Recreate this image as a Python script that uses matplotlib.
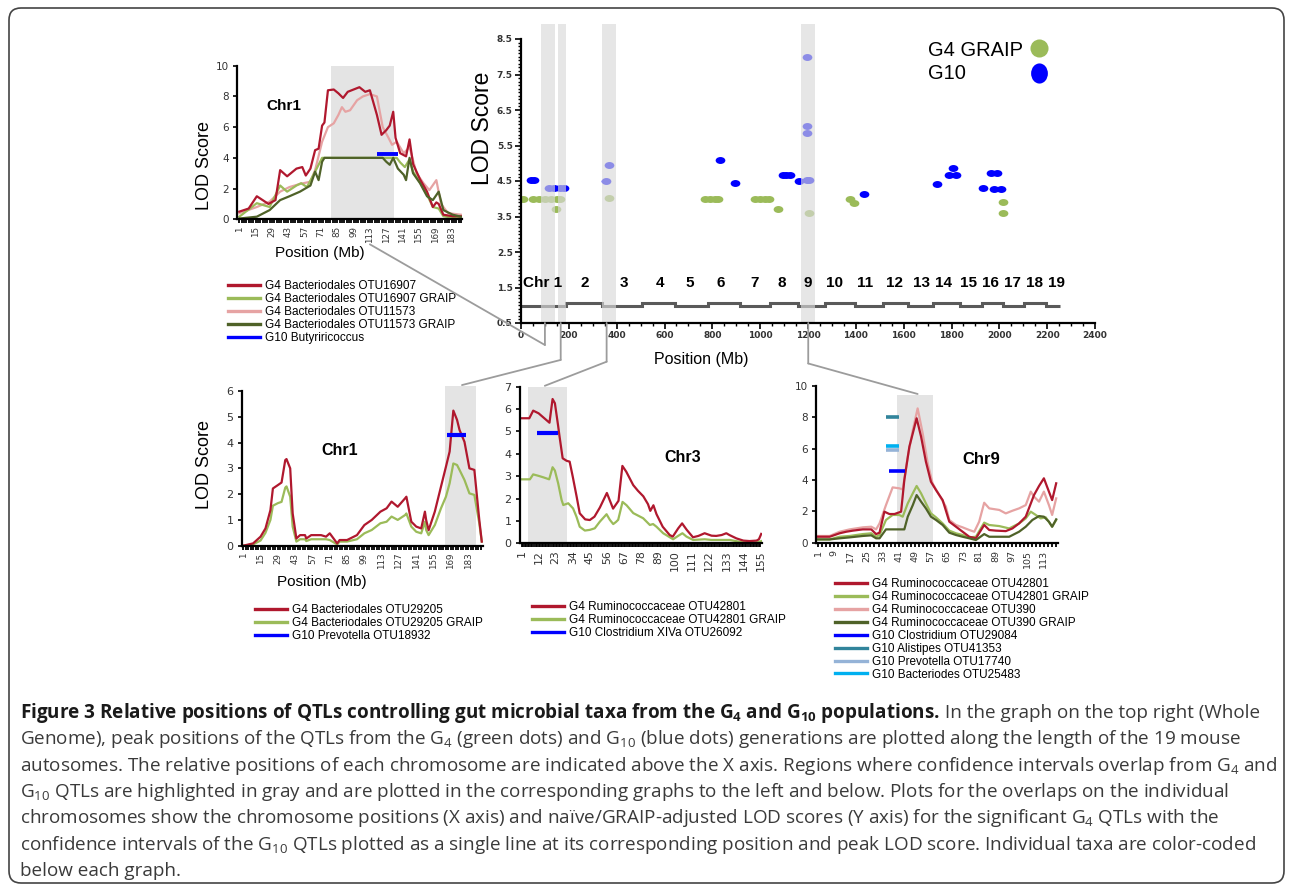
"""Figure 3: relative positions of gut-microbe QTLs from the G4 and G10 populations.

Writes out.png (1290x890).
"""

import matplotlib
matplotlib.use("Agg")
import matplotlib.pyplot as plt
import numpy as np
from matplotlib.lines import Line2D
from matplotlib.patches import ConnectionPatch, FancyBboxPatch
from matplotlib.path import Path
from matplotlib.transforms import IdentityTransform

W, H = 1290, 890

RED = "#B0182E"
LGREEN = "#9BBB59"
PINK = "#E6A3A3"
DGREEN = "#4F6228"
BLUE = "#0000FF"
TEAL = "#31849B"
PREV = "#95B3D7"
BACT = "#00B0F0"
SPAN = "#E4E4E4"
CONN = "#9C9C9C"

# ---- top left: Chr1, OTU16907 / OTU11573 -------------------------------
tl_red_x = [1, 9, 16, 26, 32, 36, 42, 50, 55, 58, 62, 66, 69, 72, 74, 77, 82, 86, 90, 94,
            99, 104, 109, 113, 119, 123, 127, 130, 133, 135, 139, 144, 147, 150, 156, 162,
            167, 170, 172, 176, 184, 191]
tl_red_y = [0.5, 0.7, 1.5, 1.0, 1.25, 3.2, 2.8, 3.3, 3.4, 2.85, 3.3, 4.5, 4.6, 6.1, 6.3, 8.4,
            8.45, 8.2, 7.9, 8.3, 8.45, 8.6, 8.3, 8.4, 6.8, 5.5, 5.8, 6.1, 7.0, 5.3, 4.3, 4.1,
            5.2, 3.6, 2.6, 1.8, 0.8, 1.1, 1.0, 0.3, 0.2, 0.2]
tl_pink_x = [1, 16, 27, 36, 44, 53, 62, 66, 72, 77, 82, 86, 89, 92, 96, 102, 107, 113, 119,
             124, 129, 132, 136, 142, 147, 153, 159, 164, 170, 174, 180, 191]
tl_pink_y = [0.4, 0.8, 1.15, 1.8, 2.1, 2.3, 2.45, 3.2, 5.05, 6.0, 6.25, 6.8, 7.3, 7.0, 7.1,
             7.75, 8.0, 8.15, 8.0, 6.0, 5.3, 4.85, 5.05, 4.3, 4.7, 3.0, 2.35, 1.9, 2.55, 1.0,
             0.4, 0.3]
tl_lgreen_x = [1, 16, 27, 36, 42, 50, 54, 59, 66, 72, 136, 139, 143, 147, 150, 156, 162, 167,
               172, 176, 187, 191]
tl_lgreen_y = [0.17, 1.05, 0.8, 2.2, 1.8, 2.2, 2.35, 2.1, 3.1, 4.0, 4.0, 3.7, 3.4, 3.9, 3.1,
               2.4, 1.6, 0.8, 0.7, 0.2, 0.07, 0.1]
tl_dgreen_x = [1, 16, 27, 36, 44, 53, 62, 66, 69, 72, 74, 124, 127, 130, 133, 137, 142, 144,
               147, 150, 156, 162, 167, 172, 176, 184, 191]
tl_dgreen_y = [0.05, 0.17, 0.6, 1.25, 1.5, 1.8, 2.2, 3.1, 2.55, 3.75, 4.0, 4.0, 3.75, 3.55,
               4.0, 3.3, 2.9, 2.55, 4.0, 3.0, 2.35, 1.5, 1.25, 1.8, 0.6, 0.3, 0.17]
tl_g10_x = [119, 137]
tl_g10_y = [4.25, 4.25]
tl_span = (80, 134)
tl_labels = ["G4 Bacteriodales OTU16907", "G4 Bacteriodales OTU16907 GRAIP",
             "G4 Bacteriodales OTU11573", "G4 Bacteriodales OTU11573 GRAIP",
             "G10 Butyriricoccus"]

# ---- whole genome ---------------------------------------------------------
g4_mb = [7, 50, 75, 100, 125, 150, 165, 145, 369, 770, 790, 810, 825, 980, 1000, 1020, 1038,
         1076, 1205, 1375, 1394, 2017, 2017]
g4_lod = [4.0, 4.0, 4.0, 4.0, 4.0, 4.0, 4.0, 3.7, 4.03, 4.0, 4.0, 4.0, 4.0, 4.0, 4.0, 4.0,
          4.0, 3.71, 3.61, 4.0, 3.89, 3.9, 3.61]
g10_mb = [40, 55, 115, 140, 165, 180, 355, 369, 832, 895, 1097, 1110, 1123, 1162, 1197, 1197,
          1197, 1197, 1205, 1434, 1738, 1808, 1790, 1820, 1933, 1965, 1992, 1977, 2008]
g10_lod = [4.53, 4.53, 4.3, 4.3, 4.3, 4.3, 4.5, 4.95, 5.08, 4.43, 4.67, 4.67, 4.67, 4.5, 7.98,
           6.05, 5.86, 4.53, 4.53, 4.13, 4.41, 4.88, 4.67, 4.67, 4.29, 4.73, 4.73, 4.27, 4.27]
chr_edges = [0, 188, 337, 505, 644, 783, 916, 1041, 1160, 1271, 1396, 1512, 1618, 1723, 1835,
             1926, 2014, 2103, 2194, 2253]
chr_levels = [0.98, 1.05, 0.98, 1.05, 0.98, 1.05, 0.98, 1.05, 0.98, 1.05, 0.98, 1.05, 0.98,
              1.05, 0.98, 1.05, 0.98, 1.05, 0.98]
chr_names = ["Chr 1", "2", "3", "4", "5", "6", "7", "8", "9", "10", "11", "12", "13", "14",
             "15", "16", "17", "18", "19"]
chr_name_x = [90, 267, 432, 580, 706, 835, 977, 1089, 1200, 1311, 1437, 1563, 1675, 1765,
              1873, 1964, 2055, 2149, 2237]
overlap_spans = [(82, 142), (153, 188), (337, 397), (1169, 1229)]

# ---- bottom left: Chr1, OTU29205 -----------------------------------------
bl_x = [1, 9, 15, 19, 23, 25, 29, 32, 35, 36, 39, 41, 44, 47, 51, 52, 56, 64, 68, 71, 77, 79,
        85, 93, 99, 105, 112, 117, 121, 126, 132, 133, 137, 141, 145, 148, 149, 151, 156, 161,
        165, 168, 171, 174, 176, 180, 184, 188, 192, 194]
bl_red = [0.0, 0.09, 0.35, 0.67, 1.38, 2.22, 2.35, 2.45, 3.32, 3.36, 3.0, 1.25, 0.28, 0.41,
          0.41, 0.28, 0.41, 0.41, 0.35, 0.48, 0.09, 0.22, 0.22, 0.41, 0.8, 1.0, 1.32, 1.45,
          1.71, 1.51, 1.84, 1.9, 0.93, 0.74, 0.67, 1.32, 1.0, 0.6, 1.32, 2.29, 3.06, 3.65,
          5.24, 4.88, 4.49, 4.03, 3.0, 2.94, 1.0, 0.16]
bl_green = [0.0, 0.05, 0.2, 0.5, 1.0, 1.55, 1.65, 1.7, 2.25, 2.3, 1.9, 0.74, 0.16, 0.25, 0.25,
            0.18, 0.25, 0.25, 0.25, 0.22, 0.05, 0.16, 0.16, 0.25, 0.48, 0.61, 0.87, 0.93,
            1.13, 1.0, 1.19, 1.25, 0.74, 0.54, 0.48, 0.93, 0.61, 0.41, 0.8, 1.45, 1.9, 2.42,
            3.19, 3.13, 2.94, 2.55, 2.03, 1.97, 0.87, 0.16]
bl_g10_x = [165.5, 181.5]
bl_g10_y = [4.3, 4.3]
bl_span = (164, 189)
bl_labels = ["G4 Bacteriodales OTU29205", "G4 Bacteriodales OTU29205 GRAIP",
             "G10 Prevotella OTU18932"]

# ---- bottom middle: Chr3, OTU42801 ---------------------------------------
bm_red_x = [1, 6, 8.5, 12, 15, 19, 21, 22.5, 24.5, 25.5, 27.5, 30, 32, 34, 36.5, 38.5, 42, 45,
            48, 51.5, 56, 58, 60, 62, 63.5, 66, 68.5, 73, 76, 79.5, 82.5, 84, 86, 88, 92,
            96.5, 98.5, 102, 104.5, 107.5, 111.5, 115, 119, 123.5, 126.5, 130, 133, 135,
            139.5, 144, 148, 152.5, 154, 155.5]
bm_red = [5.59, 5.59, 5.93, 5.81, 5.63, 5.39, 6.45, 6.26, 5.29, 4.77, 3.8, 3.69, 3.65, 2.98,
          2.09, 1.34, 1.07, 1.04, 1.19, 1.6, 2.25, 1.9, 1.55, 1.75, 1.9, 3.46, 3.2, 2.6, 2.35,
          2.1, 1.75, 1.45, 1.7, 1.3, 0.74, 0.37, 0.3, 0.67, 0.89, 0.6, 0.27, 0.33, 0.45, 0.34,
          0.33, 0.37, 0.45, 0.37, 0.22, 0.12, 0.1, 0.12, 0.18, 0.42]
bm_green_x = [1, 6.4, 8.5, 11.7, 15, 18.8, 21, 22.5, 24.6, 26.8, 27.9, 31.1, 34.2, 36.4, 38.5,
              41.8, 45, 48.2, 51.5, 55.8, 57.9, 60.1, 61.8, 63.3, 66.1, 68.7, 73, 79.4, 83.7,
              85.8, 88, 92.3, 98.7, 101.9, 104.7, 107.3, 111.6, 119.1, 123.4, 130.9, 135.2,
              143.8, 152.4, 155.6]
bm_green = [2.86, 2.86, 3.08, 3.02, 2.95, 2.86, 3.4, 3.25, 2.68, 1.94, 1.71, 1.79, 1.56, 1.19,
            0.74, 0.57, 0.6, 0.67, 0.97, 1.3, 1.05, 0.86, 0.95, 1.05, 1.85, 1.7, 1.35, 1.12,
            0.82, 0.86, 0.74, 0.45, 0.18, 0.33, 0.45, 0.3, 0.15, 0.18, 0.15, 0.15, 0.15, 0.04,
            0.03, 0.1]
bm_g10_x = [10.7, 24.6]
bm_g10_y = [4.94, 4.94]
bm_span = (5.3, 30.4)
bm_labels = ["G4 Ruminococcaceae OTU42801", "G4 Ruminococcaceae OTU42801 GRAIP",
             "G10 Clostridium XIVa OTU26092"]

# ---- bottom right: Chr9 ----------------------------------------------------
br_red_x = [1, 6.8, 11.7, 15, 18.3, 23.2, 27.4, 29.8, 31.5, 33.9, 36.4, 38.9, 42.2, 43.8, 46.3,
            48, 49.9, 52.1, 54.5, 57, 59.5, 62.8, 66.1, 69.4, 72.7, 76, 79.3, 83.4, 85.9, 89.2,
            94.1, 97.4, 100.7, 104, 108.1, 110.6, 113, 115.5, 117.1, 119.1]
br_red = [0.38, 0.38, 0.6, 0.7, 0.77, 0.85, 0.85, 0.55, 0.64, 1.98, 1.83, 1.83, 1.98, 4.0,
          6.13, 6.98, 7.94, 6.77, 5.17, 3.89, 3.36, 2.72, 1.34, 1.02, 0.7, 0.38, 0.28, 1.13,
          0.81, 0.77, 0.74, 0.91, 1.23, 1.66, 3.04, 3.62, 4.11, 3.26, 2.72, 3.79]
br_pink_x = [1, 6.8, 11.7, 16.7, 23.2, 27.4, 29.8, 31.5, 34.7, 38, 41.3, 43, 45.5, 48, 50.4,
             52.9, 55.4, 57.8, 61.1, 64.4, 66.1, 69.4, 72.7, 76, 78.5, 80.9, 83.4, 85.9, 90.9,
             94.1, 97.4, 100.7, 104, 106.5, 108.1, 110.6, 113, 115.5, 117.1, 119.1]
br_pink = [0.43, 0.43, 0.7, 0.85, 0.98, 1.02, 0.85, 1.23, 2.4, 3.53, 3.47, 3.4, 5.49, 7.19,
           8.57, 6.98, 5.06, 3.79, 3.04, 2.3, 1.45, 1.13, 0.98, 0.81, 0.7, 1.34, 2.55, 2.19,
           2.09, 1.87, 2.04, 2.19, 2.4, 3.26, 2.94, 2.62, 3.26, 2.4, 1.77, 2.83]
br_lgreen_x = [1, 6.8, 11.7, 16.7, 23.2, 27.4, 29.8, 31.5, 34.7, 38, 41.3, 43, 45.5, 48, 49.9,
               52.1, 54.5, 57, 59.5, 62.8, 66.1, 69.4, 72.7, 76, 79.3, 83.4, 85.9, 90.9, 95.8,
               100.7, 104, 106.5, 109, 111.4, 113.9, 117.1, 119.1]
br_lgreen = [0.21, 0.21, 0.38, 0.43, 0.55, 0.6, 0.38, 0.49, 1.45, 1.77, 1.77, 1.66, 2.51, 3.15,
             3.62, 3.15, 2.51, 1.87, 1.62, 1.23, 0.77, 0.6, 0.49, 0.34, 0.38, 1.28, 1.13, 1.06,
             0.91, 1.23, 1.55, 1.98, 1.77, 1.55, 1.62, 1.02, 1.45]
br_dgreen_x = [1, 6.8, 11.7, 16.7, 23.2, 27.4, 29.8, 31.5, 34.7, 38, 41.3, 43.8, 45.5, 48, 49.9,
               52.1, 54.5, 57, 59.5, 62.8, 66.1, 69.4, 72.7, 76, 79.3, 83.4, 85.9, 90.9, 95.8,
               100.7, 104, 107.3, 110.6, 113, 115.5, 117.1, 119.1]
br_dgreen = [0.21, 0.21, 0.28, 0.34, 0.43, 0.47, 0.28, 0.28, 0.85, 0.85, 0.85, 0.85, 1.66, 2.4,
             3.04, 2.62, 2.19, 1.66, 1.45, 1.13, 0.64, 0.49, 0.38, 0.28, 0.17, 0.55, 0.38, 0.38,
             0.38, 0.7, 1.02, 1.45, 1.7, 1.66, 1.34, 1.02, 1.49]
br_g10_start = [36.1, 34.8, 34.8, 34.8]
br_g10_end = [44.3, 41.4, 41.4, 41.4]
br_g10_lod = [4.6, 8.04, 5.91, 6.17]
br_span = (40.2, 58.2)
br_labels = ["G4 Ruminococcaceae OTU42801", "G4 Ruminococcaceae OTU42801 GRAIP",
             "G4 Ruminococcaceae OTU390", "G4 Ruminococcaceae OTU390 GRAIP",
             "G10 Clostridium OTU29084", "G10 Alistipes OTU41353",
             "G10 Prevotella OTU17740", "G10 Bacteriodes OTU25483"]

CAPTION_BOLD = ("Figure 3 Relative positions of QTLs controlling gut microbial taxa "
                "from the G$_4$ and G$_{10}$ populations.")
CAPTION_FIRST = " In the graph on the top right (Whole"
CAPTION_LINES = [
    "Genome), peak positions of the QTLs from the G$_4$ (green dots) and G$_{10}$ (blue dots) "
    "generations are plotted along the length of the 19 mouse",
    "autosomes. The relative positions of each chromosome are indicated above the X axis. "
    "Regions where confidence intervals overlap from G$_4$ and",
    "G$_{10}$ QTLs are highlighted in gray and are plotted in the corresponding graphs to the "
    "left and below. Plots for the overlaps on the individual",
    "chromosomes show the chromosome positions (X axis) and naïve/GRAIP-adjusted LOD scores "
    "(Y axis) for the significant G$_4$ QTLs with the",
    "confidence intervals of the G$_{10}$ QTLs plotted as a single line at its corresponding "
    "position and peak LOD score. Individual taxa are color-coded",
    "below each graph.",
]


def box(left, top, right, bottom):
    return [left / W, 1 - bottom / H, (right - left) / W, (bottom - top) / H]


def fpt(x, y):
    return (x / W, 1 - y / H)


def line_panel(ax, xlim, ymax, ystep, xlabels, minor_step, xfs, yfs):
    ax.set_xlim(*xlim)
    ax.set_ylim(0, ymax)
    ax.spines[["top", "right"]].set_visible(False)
    ax.spines[["left", "bottom"]].set_linewidth(1.6)
    ax.set_yticks(np.arange(0, ymax + 0.01, ystep))
    ax.set_xticks(xlabels)
    ax.set_xticklabels([str(v) for v in xlabels], rotation=90)
    ax.set_xticks(np.arange(1, xlim[1], minor_step), minor=True)
    ax.tick_params(axis="x", which="both", length=3, width=1.3, labelsize=xfs, pad=2)
    ax.tick_params(axis="y", length=3, width=1.2, labelsize=yfs, pad=3)
    for lab in ax.get_xticklabels() + ax.get_yticklabels():
        lab.set_family("DejaVu Sans")
        lab.set_color("#333333")


def panel_legend(ax, labels, colors, x, y):
    handles = [Line2D([], [], color=c, lw=2.4, label=l) for l, c in zip(labels, colors)]
    ax.legend(handles=handles, loc="upper left", bbox_to_anchor=fpt(x, y),
              bbox_transform=fig.transFigure, frameon=False, fontsize=8.5,
              handlelength=2.7, handletextpad=0.45, labelspacing=0.08,
              borderpad=0, borderaxespad=0)


plt.rcParams["font.family"] = ["Liberation Sans", "DejaVu Sans"]
plt.rcParams["mathtext.default"] = "regular"

fig = plt.figure(figsize=(W / 100, H / 100), dpi=100)
fig.patch.set_facecolor("white")

ax_tl = fig.add_axes(box(237, 65.7, 462, 219.3))
ax_tr = fig.add_axes(box(521, 39, 1095, 323))
ax_bl = fig.add_axes(box(242, 391, 483, 545.7))
ax_bm = fig.add_axes(box(520, 386.7, 762, 543.3))
ax_br = fig.add_axes(box(816, 386, 1058, 542.7))

# top left
ax = ax_tl
ax.axvspan(*tl_span, color=SPAN, lw=0, zorder=0)
ax.plot(tl_pink_x, tl_pink_y, color=PINK, lw=1.6, zorder=2)
ax.plot(tl_lgreen_x, tl_lgreen_y, color=LGREEN, lw=1.6, zorder=2.1)
ax.plot(tl_red_x, tl_red_y, color=RED, lw=1.6, zorder=2.2)
ax.plot(tl_dgreen_x, tl_dgreen_y, color=DGREEN, lw=1.6, zorder=2.3)
ax.plot(tl_g10_x, tl_g10_y, color=BLUE, lw=2.8, solid_capstyle="butt", zorder=3)
line_panel(ax, (-1, 192), 10, 2, list(range(1, 190, 14)), 2, 6.3, 7.5)
ax.text(39, 7.4, "Chr1", fontsize=11, fontweight="bold", ha="center", va="center")
ax.set_ylabel("LOD Score", fontsize=13)
ax.yaxis.set_label_coords(-0.107, 0.35)
ax.set_xlabel("Position (Mb)", fontsize=11)
ax.xaxis.set_label_coords(0.369, -0.174)
panel_legend(ax, tl_labels, [RED, LGREEN, PINK, DGREEN, BLUE], 228, 280)

# whole genome
ax = ax_tr
ellipse = Path(Path.unit_circle().vertices * [1.4, 1.0], Path.unit_circle().codes)
tall = Path(Path.unit_circle().vertices * [1.0, 1.2], Path.unit_circle().codes)
ax.plot(g4_mb, g4_lod, ls="none", marker=ellipse, ms=7, color=LGREEN, mew=0, zorder=2)
ax.plot(g10_mb, g10_lod, ls="none", marker=ellipse, ms=7, color=BLUE, mew=0, zorder=2.1)
ax.stairs(chr_levels, chr_edges, baseline=None, color="#5A5A5A", lw=2.2, zorder=2)
for x0, x1 in overlap_spans:
    ax.axvspan(x0, x1, ymin=0, ymax=1.053, color="#D9D9D9", alpha=0.65, lw=0,
               zorder=3, clip_on=False)
for name, xpos in zip(chr_names, chr_name_x):
    ax.text(xpos, 1.63, name, fontsize=11, fontweight="bold", ha="center", va="center",
            zorder=5)
ax.set_xlim(0, 2400)
ax.set_ylim(0.5, 8.5)
ax.spines[["top", "right"]].set_visible(False)
ax.spines[["left", "bottom"]].set_linewidth(1.6)
ax.spines["left"].set_zorder(4)
ax.spines["bottom"].set_zorder(4)
ax.set_yticks(np.arange(0.5, 8.6, 1.0))
ax.set_yticks(np.arange(0.5, 8.55, 0.1), minor=True)
ax.set_xticks(np.arange(0, 2401, 200))
ax.set_xticks(np.arange(0, 2401, 50), minor=True)
ax.tick_params(which="major", length=4, width=1.2, labelsize=6.5, pad=2)
ax.tick_params(which="minor", length=2.5, width=1.0)
for lab in ax.get_xticklabels() + ax.get_yticklabels():
    lab.set_family("DejaVu Sans")
    lab.set_fontweight("bold")
    lab.set_color("#333333")
ax.set_ylabel("LOD Score", fontsize=16.5)
ax.yaxis.set_label_coords(-0.047, 0.687)
ax.set_xlabel("Position (Mb)", fontsize=11.5)
ax.xaxis.set_label_coords(0.314, -0.102)
ax.text(0.709, 0.961, "G4 GRAIP", transform=ax.transAxes, fontsize=14.5, va="center")
ax.text(0.709, 0.877, "G10", transform=ax.transAxes, fontsize=14.5, va="center")
ax.plot([0.902], [0.968], transform=ax.transAxes, marker="o", ms=13, color=LGREEN, mew=0,
        clip_on=False)
ax.plot([0.902], [0.880], transform=ax.transAxes, marker=tall, ms=14.5, color=BLUE, mew=0,
        clip_on=False)

# bottom left
ax = ax_bl
ax.axvspan(*bl_span, ymax=1.03, color=SPAN, lw=0, zorder=0, clip_on=False)
ax.plot(bl_x, bl_green, color=LGREEN, lw=1.6, zorder=2)
ax.plot(bl_x, bl_red, color=RED, lw=1.6, zorder=2.1)
ax.plot(bl_g10_x, bl_g10_y, color=BLUE, lw=3, solid_capstyle="butt", zorder=3)
line_panel(ax, (0, 195), 6, 1, list(range(1, 190, 14)), 2, 6.3, 8)
ax.text(79, 3.7, "Chr1", fontsize=11.5, fontweight="bold", ha="center", va="center")
ax.set_ylabel("LOD Score", fontsize=13)
ax.yaxis.set_label_coords(-0.12, 0.528)
ax.set_xlabel("Position (Mb)", fontsize=11)
ax.xaxis.set_label_coords(0.33, -0.19)
panel_legend(ax, bl_labels, [RED, LGREEN, BLUE], 255, 604)

# bottom middle
ax = ax_bm
ax.axvspan(*bm_span, color=SPAN, lw=0, zorder=0)
ax.plot(bm_green_x, bm_green, color=LGREEN, lw=1.6, zorder=2)
ax.plot(bm_red_x, bm_red, color=RED, lw=1.6, zorder=2.1)
ax.plot(bm_g10_x, bm_g10_y, color=BLUE, lw=3, solid_capstyle="butt", zorder=3)
line_panel(ax, (0, 156), 7, 1, list(range(1, 157, 11)), 1, 7.8, 8)
ax.text(105, 3.84, "Chr3", fontsize=11.5, fontweight="bold", ha="center", va="center")
panel_legend(ax, bm_labels, [RED, LGREEN, BLUE], 532, 601)

# bottom right
ax = ax_br
ax.axvspan(*br_span, ymax=0.94, color=SPAN, lw=0, zorder=0)
ax.plot(br_pink_x, br_pink, color=PINK, lw=1.6, zorder=2)
ax.plot(br_lgreen_x, br_lgreen, color=LGREEN, lw=1.6, zorder=2.1)
ax.plot(br_red_x, br_red, color=RED, lw=1.6, zorder=2.2)
ax.plot(br_dgreen_x, br_dgreen, color=DGREEN, lw=1.6, zorder=2.3)
for x0, x1, lod, col in zip(br_g10_start, br_g10_end, br_g10_lod, [BLUE, TEAL, PREV, BACT]):
    ax.plot([x0, x1], [lod, lod], color=col, lw=2.6, solid_capstyle="butt", zorder=3)
line_panel(ax, (0, 120), 10, 2, list(range(1, 118, 8)), 2, 6.8, 7.5)
ax.text(81.7, 5.3, "Chr9", fontsize=12, fontweight="bold", ha="center", va="center")
panel_legend(ax, br_labels, [RED, LGREEN, PINK, DGREEN, BLUE, TEAL, PREV, BACT], 835, 578)

# connectors from the highlighted genome regions to the chromosome panels
links = [
    ((100, -0.12), ax_tl, (113, -1.63)),
    ((166, -0.54), ax_bl, (178, 6.23)),
    ((358, -0.59), ax_bm, (16, 7.04)),
    ((1201, -0.64), ax_br, (50.4, 9.49)),
]
for (gx, gy), target, xy in links:
    for a, b, tb in [((gx, 0.5), (gx, gy), ax_tr), ((gx, gy), xy, target)]:
        con = ConnectionPatch(a, b, "data", "data", axesA=ax_tr, axesB=tb,
                              color=CONN, lw=1.3)
        con.set_annotation_clip(False)
        fig.add_artist(con)

# caption, sized so the second line spans the text block width
renderer = fig.canvas.get_renderer()
cap_kw = dict(family="Open Sans", va="baseline", ha="left")
probe = fig.text(*fpt(20, 740), CAPTION_LINES[0], fontsize=12, **cap_kw)
cap_size = 12 * 1217 / probe.get_window_extent(renderer).width
probe.remove()
y0 = 718
bold = fig.text(*fpt(20, y0), CAPTION_BOLD, fontsize=cap_size, fontweight="bold",
                color="#1a1a1a", **cap_kw)
bx = bold.get_window_extent(renderer).x1
fig.text(bx / W, 1 - y0 / H, CAPTION_FIRST, fontsize=cap_size, color="#3a3a3a", **cap_kw)
for i, line in enumerate(CAPTION_LINES):
    fig.text(*fpt(20, y0 + 26.3 * (i + 1)), line, fontsize=cap_size, color="#3a3a3a",
             **cap_kw)

frame = FancyBboxPatch((9, 7), 1275, 875, boxstyle="round,pad=0,rounding_size=12",
                       transform=IdentityTransform(), fill=False, ec="#444444", lw=1.2)
fig.add_artist(frame)

fig.savefig("out.png", dpi=100)
